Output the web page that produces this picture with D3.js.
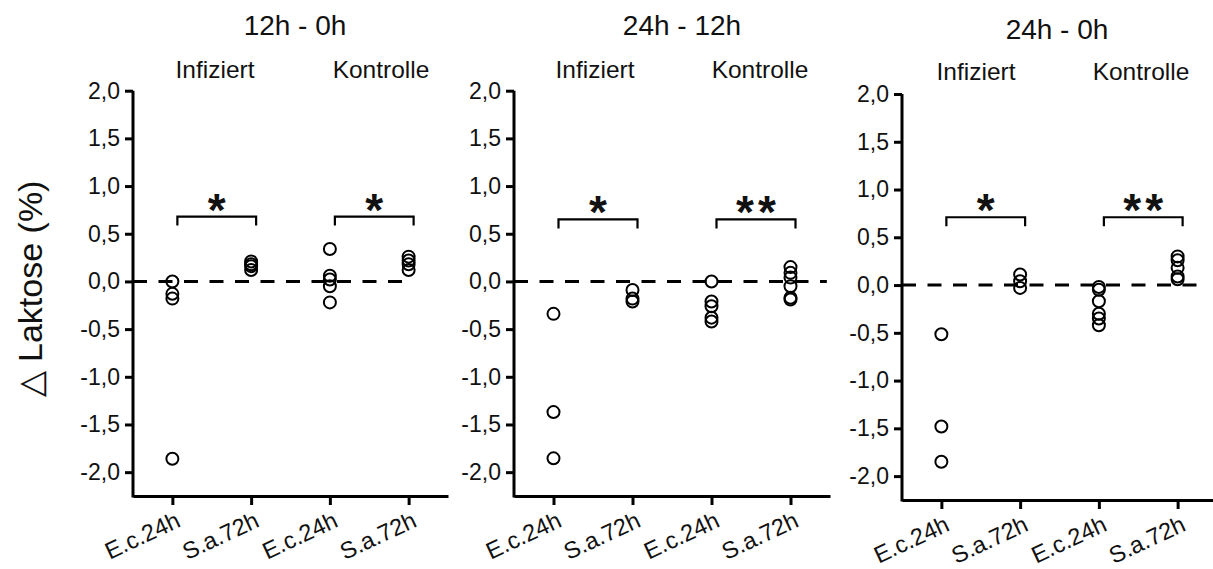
<!DOCTYPE html>
<html>
<head>
<meta charset="utf-8">
<title>Laktose</title>
<script src="https://cdn.jsdelivr.net/npm/d3@7"></script>
<style>
body { margin: 0; background: white; }
text { font-family: "Liberation Sans", Arial, sans-serif; fill: #111; }
.axis path, .axis line { stroke: black; stroke-width: 3; }
.axis text { font-size: 23px; fill: #111; }
.zero { stroke: black; stroke-width: 3; stroke-dasharray: 14 11.5; }
.dot { fill: none; stroke: black; stroke-width: 2; }
.bracket { fill: none; stroke: black; stroke-width: 2.2; }
</style>
</head>
<body>
<svg id="chart" width="1213" height="569"></svg>
<script>
var panelTitles = ["12h - 0h", "24h - 12h", "24h - 0h"];
var groupNames = ["Infiziert", "Kontrolle"];
var xCategories = ["E.c.24h", "S.a.72h", "E.c.24h", "S.a.72h"];
var yTickValues = [2, 1.5, 1, 0.5, 0, -0.5, -1, -1.5, -2];
var yLabel = "\u25B3 Laktose (%)";

// per panel: [Infiziert E.c., Infiziert S.a., Kontrolle E.c., Kontrolle S.a.]
var values12h0h = [
  [0.0, -0.13, -0.18, -1.86],
  [0.21, 0.18, 0.16, 0.12],
  [0.34, 0.06, 0.02, -0.05, -0.22],
  [0.26, 0.22, 0.18, 0.12]
];
var values24h12h = [
  [-0.34, -1.37, -1.855],
  [-0.09, -0.18, -0.21],
  [0.0, -0.21, -0.26, -0.38, -0.42],
  [0.15, 0.09, 0.04, -0.05, -0.17, -0.19]
];
var values24h0h = [
  [-0.515, -1.48, -1.85],
  [0.11, 0.04, -0.03],
  [-0.02, -0.05, -0.17, -0.3, -0.35, -0.42],
  [0.3, 0.26, 0.18, 0.09, 0.06]
];
var panelValues = [values12h0h, values24h12h, values24h0h];
var significance = [["*", "*"], ["*", "**"], ["*", "**"]];
var bracketLevel = [0.68, 0.65, 0.71];

// layout of the three panels (pixels)
var layout = [
  {left: 133, right: 448, top: 90.7, bottom: 496, dashEnd: 2.92, titleX: 295, titleY: 35, subX: [215, 381], subY: 78},
  {left: 514, right: 830, top: 90.7, bottom: 496, dashEnd: 3.46, titleX: 682, titleY: 35, subX: [595, 760], subY: 78},
  {left: 902, right: 1217, top: 94, bottom: 500, dashEnd: 3.25, titleX: 1057, titleY: 39, subX: [976, 1141], subY: 80}
];

var de = d3.formatLocale({decimal: ",", thousands: ".", grouping: [3], currency: ["", "\u20AC"], minus: "-"});
var fmt = de.format(".1f");

var svg = d3.select("#chart");

layout.forEach(function(p, i) {
  var x = d3.scaleLinear().domain([-0.5, 3.5]).range([p.left, p.right]);
  var y = d3.scaleLinear().domain([-2.25, 2]).range([p.bottom, p.top]);
  var g = svg.append("g");

  // zero line
  g.append("line")
    .attr("class", "zero")
    .attr("x1", x(-0.5)).attr("x2", x(p.dashEnd))
    .attr("y1", y(0)).attr("y2", y(0));

  g.append("g")
    .attr("class", "axis")
    .attr("transform", `translate(${p.left},0)`)
    .call(d3.axisLeft(y).tickValues(yTickValues).tickSize(8).tickSizeOuter(0).tickPadding(5).tickFormat(fmt))
    .select(".domain").attr("d", `M0,${p.top}V${p.bottom + 1.5}`);

  var xa = g.append("g")
    .attr("class", "axis")
    .attr("transform", `translate(0,${p.bottom})`)
    .call(d3.axisBottom(x).tickValues([0, 1, 2, 3]).tickSize(9).tickSizeOuter(0).tickFormat(function(d) { return xCategories[d]; }));
  xa.selectAll("text")
    .style("text-anchor", "end")
    .style("font-size", "23.5px")
    .attr("y", 0).attr("dy", 0)
    .attr("transform", "translate(9,30) rotate(-25)");

  // points
  panelValues[i].forEach(function(vals, c) {
    g.selectAll(null)
      .data(vals)
      .enter().append("circle")
        .attr("class", "dot")
        .attr("cx", x(c))
        .attr("cy", function(d) { return y(d); })
        .attr("r", 6);
  });

  // significance brackets
  significance[i].forEach(function(s, k) {
    var x1 = x(2 * k) + 5, x2 = x(2 * k + 1) + 5, yb = y(bracketLevel[i]);
    g.append("path")
      .attr("class", "bracket")
      .attr("d", `M${x1},${yb + 9}V${yb}H${x2}V${yb + 9}`);
    g.append("text")
      .attr("x", (x1 + x2) / 2 + 2)
      .attr("y", yb + 9)
      .attr("text-anchor", "middle")
      .style("font-size", "46px")
      .style("font-weight", "bold")
      .style("letter-spacing", "4px")
      .text(s);
  });

  g.append("text")
    .attr("x", p.titleX).attr("y", p.titleY)
    .attr("text-anchor", "middle")
    .style("font-size", "28px")
    .text(panelTitles[i]);

  groupNames.forEach(function(name, k) {
    g.append("text")
      .attr("x", p.subX[k]).attr("y", p.subY)
      .attr("text-anchor", "middle")
      .style("font-size", "24.5px")
      .text(name);
  });
});

svg.append("text")
  .attr("transform", "translate(42,289) rotate(-90)")
  .attr("text-anchor", "middle")
  .style("font-size", "34px")
  .text(yLabel);
</script>
</body>
</html>
